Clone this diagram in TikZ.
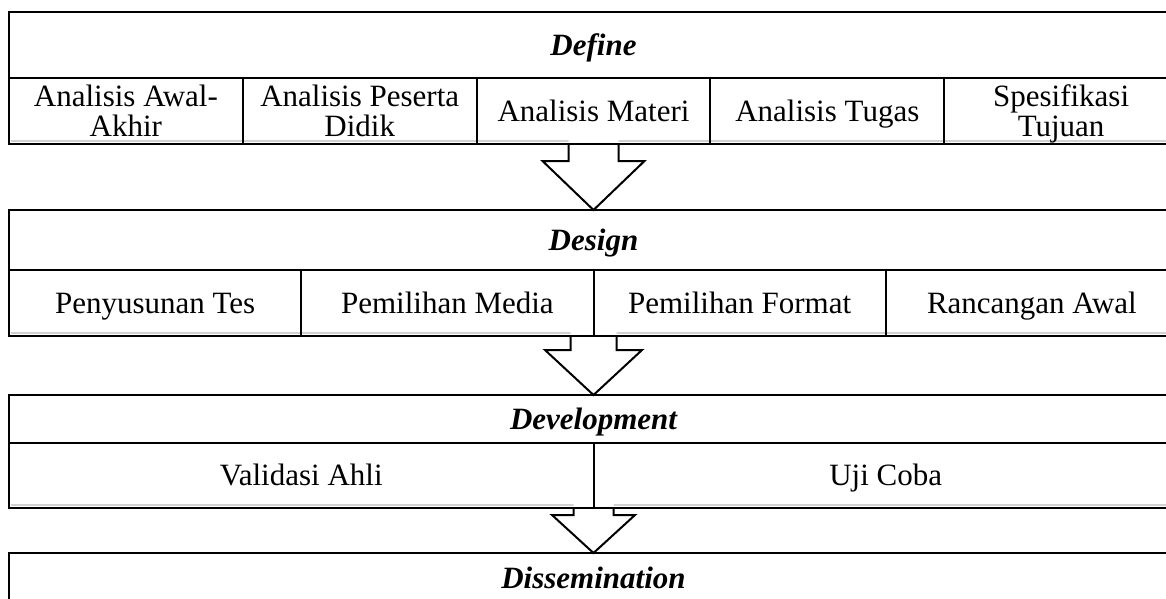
\documentclass[tikz,border=0pt]{standalone}
\usepackage{fontspec}
\setmainfont{Liberation Serif}
\usetikzlibrary{calc}
\pgfdeclarelayer{background}
\pgfsetlayers{background,main}
\newcommand\blockarrow[5]{%
  \fill[white] let \p1=(#1), \p2=(#2) in
    (\x1-#3pt,\y1+4pt) -- (\x1-#3pt,\y1-#5pt) -- (\x1-#4pt,\y1-#5pt) -- (\x1,\y2)
    -- (\x1+#4pt,\y1-#5pt) -- (\x1+#3pt,\y1-#5pt) -- (\x1+#3pt,\y1+4pt) -- cycle;
  \draw[arrowline] let \p1=(#1), \p2=(#2) in
    (\x1-#3pt,\y1) -- (\x1-#3pt,\y1-#5pt) -- (\x1-#4pt,\y1-#5pt) -- (\x1,\y2)
    -- (\x1+#4pt,\y1-#5pt) -- (\x1+#3pt,\y1-#5pt) -- (\x1+#3pt,\y1);
}
\begin{document}
\begin{tikzpicture}[x=1pt,y=-1pt,
  cell/.style={draw=black, line width=2pt, rectangle, inner sep=0pt, outer sep=0pt,
    font=\fontsize{31}{30}\selectfont, text height=20.5pt, text depth=0pt, align=center},
  twoline/.style={text height=50.5pt, text depth=0pt},
  head/.style={cell, font=\fontsize{31}{30}\selectfont\bfseries\itshape, minimum width=1169pt},
  dfcell/.style={cell, minimum width=233.8pt, minimum height=66pt},
  dscell/.style={cell, minimum width=292.25pt, minimum height=66pt},
  dvcell/.style={cell, minimum width=584.5pt, minimum height=65pt},
  greyline/.style={draw=black!18, line width=2pt},
  arrowline/.style={draw=black, line width=2pt, line join=miter}
]
\useasboundingbox (0,0) rectangle (1166,599);
\begin{pgfonlayer}{background}
  \fill[white] (0,0) rectangle (1166,599);
\end{pgfonlayer}
\clip (0,0) rectangle (1166,599);

% Define
\node[head, minimum height=66pt] (dfH) at (593.5,45) {Define};
\node[dfcell, twoline] (df1) at (125.9,111) {Analisis Awal-\\Akhir};
\node[dfcell, twoline] (df2) at (359.7,111) {Analisis Peserta\\Didik};
\node[dfcell] (df3) at (593.5,111) {Analisis Materi};
\node[dfcell] (df4) at (827.3,111) {Analisis Tugas};
\node[dfcell, twoline] (df5) at (1061.1,111) {Spesifikasi\\Tujuan};

% Design
\node[head, minimum height=60pt] (dsH) at (593.5,240) {Design};
\node[dscell] (ds1) at (155.125,303) {Penyusunan Tes};
\node[dscell] (ds2) at (447.375,303) {Pemilihan Media};
\node[dscell] (ds3) at (739.625,303) {Pemilihan Format};
\node[dscell] (ds4) at (1031.875,303) {Rancangan Awal};

% Development
\node[head, minimum height=48pt] (dvH) at (593.5,419) {Development};
\node[dvcell] (dv1) at (301.25,475.5) {Validasi Ahli};
\node[dvcell] (dv2) at (885.75,475.5) {Uji Coba};

% Dissemination
\node[head, minimum height=50pt] (dmH) at (593.5,578) {Dissemination};

\begin{pgfonlayer}{background}
  \draw[greyline] ($(df1.south west)+(2,-3)$) -- ($(df5.south east)+(0,-3)$);
  \draw[greyline] ($(ds1.south west)+(2,-3)$) -- ($(ds4.south east)+(0,-3)$);
  \draw[greyline] ($(dv1.south west)+(2,-3)$) -- ($(dv2.south east)+(0,-3)$);
  \blockarrow{df3.south}{dsH.north}{25}{51}{17}
  \blockarrow{ds2.south east}{dvH.north}{23}{48.5}{14}
  \blockarrow{dv1.south east}{dmH.north}{20}{41.5}{7}
\end{pgfonlayer}
\end{tikzpicture}
\end{document}
